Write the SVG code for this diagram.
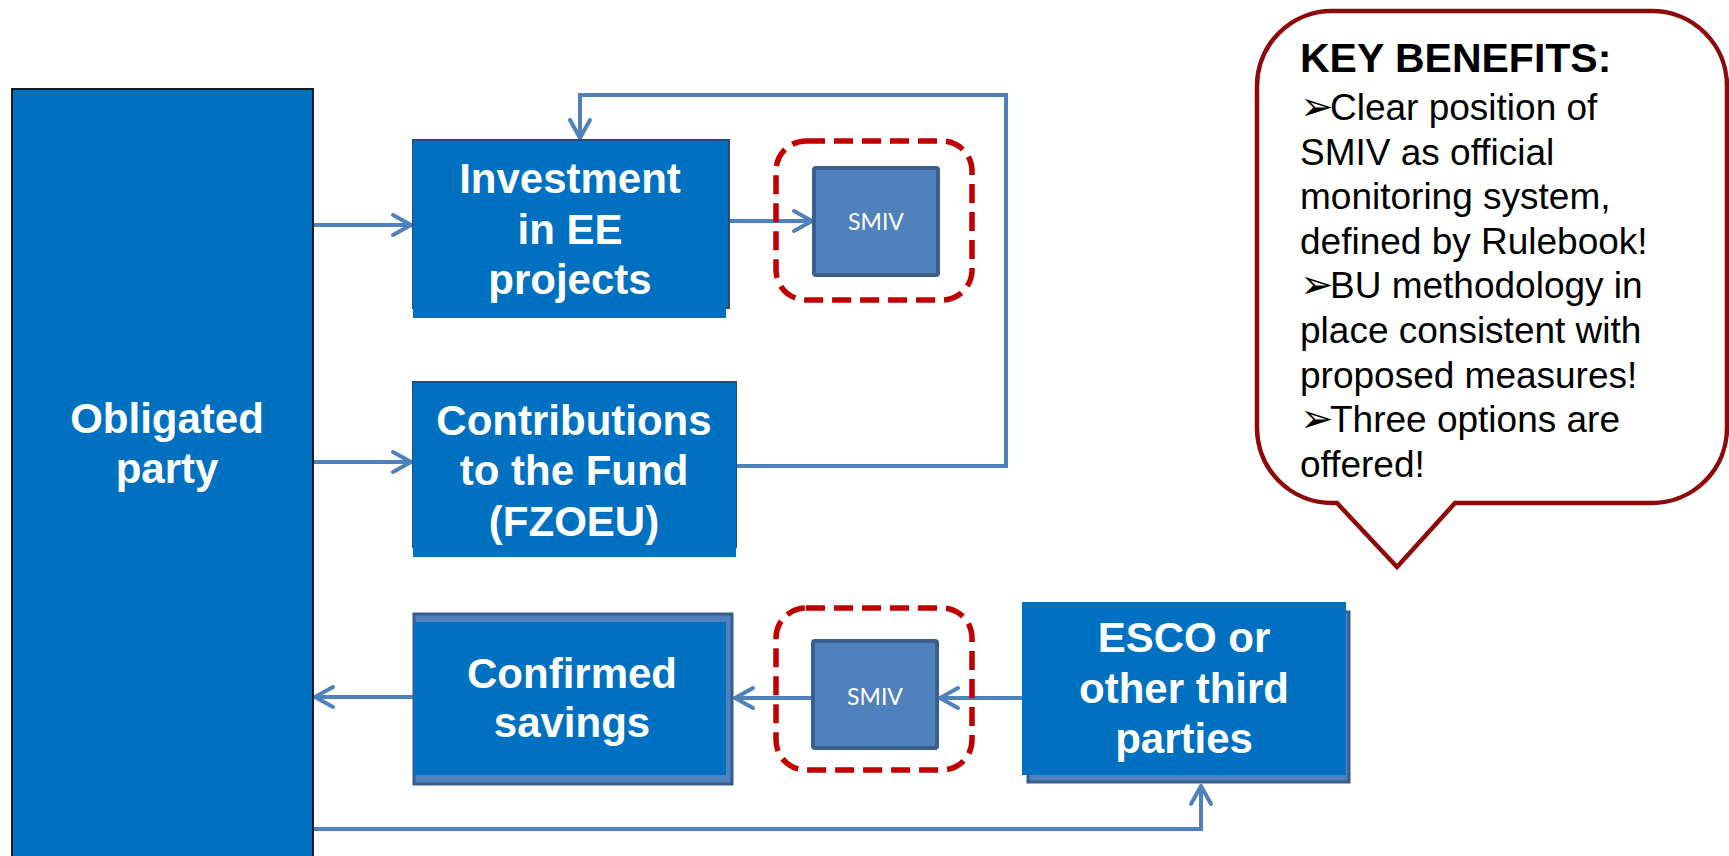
<svg xmlns="http://www.w3.org/2000/svg" width="1729" height="856" viewBox="0 0 1729 856">
<style>
.box{fill:#0070C0}
.lbl{font-family:"Liberation Sans",Arial,sans-serif;font-weight:bold;font-size:42px;fill:#FFFFFF;text-anchor:middle}
.smiv{fill:#4F81BD;stroke:#3A5F8E;stroke-width:4}
.smivt{font-family:Lato,"Open Sans",sans-serif;font-size:23px;fill:#FFFFFF;text-anchor:middle}
.dash{fill:none;stroke:#C00000;stroke-width:5.5;stroke-dasharray:19 9}
.con{fill:none;stroke:#4F81BD;stroke-width:4}
.ct{font-family:"Liberation Sans",Arial,sans-serif;font-size:37px;fill:#000000}
.bul{font-family:"DejaVu Sans",sans-serif;font-size:40px}
</style>
<defs>
<marker id="arr" viewBox="-22 -13 26 26" refX="0" refY="0" markerWidth="26" markerHeight="26" markerUnits="userSpaceOnUse" orient="auto">
<path d="M-18,-10 L0,0 L-18,10" fill="none" stroke="#4F81BD" stroke-width="4" stroke-linecap="round" stroke-linejoin="round"/>
</marker>
</defs>
<rect width="1729" height="856" fill="#FFFFFF"/>

<g id="connectors">
<path class="con" d="M313,225 H411" marker-end="url(#arr)"/>
<path class="con" d="M313,462 H411" marker-end="url(#arr)"/>
<path class="con" d="M725,221 H812" marker-end="url(#arr)"/>
<path class="con" d="M736,466 H1006 V95 H580 V138" marker-end="url(#arr)"/>
<path class="con" d="M1022,698 H940" marker-end="url(#arr)"/>
<path class="con" d="M812,698 H735" marker-end="url(#arr)"/>
<path class="con" d="M413,697 H315" marker-end="url(#arr)"/>
<path class="con" d="M313,829 H1201 V786" marker-end="url(#arr)"/>
</g>

<g id="obligated">
<rect x="12" y="89" width="301" height="780" class="box" stroke="#1A1A1A" stroke-width="2"/>
<text class="lbl" x="167" y="433">Obligated</text>
<text class="lbl" x="167" y="483">party</text>
</g>

<g id="investment">
<rect x="413" y="140" width="316" height="168" class="box" stroke="#2F4A6E" stroke-width="2"/>
<rect x="413" y="143" width="313" height="175" class="box"/>
<text class="lbl" x="570" y="193">Investment</text>
<text class="lbl" x="570" y="244">in EE</text>
<text class="lbl" x="570" y="294">projects</text>
</g>

<g id="smiv1">
<rect x="776" y="141" width="196" height="159" rx="30" class="dash"/>
<rect x="814" y="168" width="124" height="107" rx="2" class="smiv"/>
<text class="smivt" x="876" y="230">SMIV</text>
</g>

<g id="contributions">
<rect x="413" y="382" width="323" height="165" class="box" stroke="#2F4A6E" stroke-width="2"/>
<rect x="413" y="385" width="323" height="172" class="box"/>
<text class="lbl" x="574" y="435">Contributions</text>
<text class="lbl" x="574" y="485">to the Fund</text>
<text class="lbl" x="574" y="536">(FZOEU)</text>
</g>

<g id="confirmed">
<rect x="414" y="614" width="318" height="170" fill="#4F81BD" stroke="#385D8A" stroke-width="3"/>
<rect x="414" y="622" width="312" height="153" class="box"/>
<text class="lbl" x="572" y="688">Confirmed</text>
<text class="lbl" x="572" y="737">savings</text>
</g>

<g id="smiv2">
<rect x="776" y="608" width="196" height="162" rx="30" class="dash"/>
<rect x="813" y="641" width="124" height="107" rx="2" class="smiv"/>
<text class="smivt" x="875" y="705">SMIV</text>
</g>

<g id="esco">
<rect x="1028" y="612" width="321" height="170" fill="#4F81BD" stroke="#385D8A" stroke-width="3"/>
<rect x="1022" y="602" width="324" height="173" class="box"/>
<text class="lbl" x="1184" y="652">ESCO or</text>
<text class="lbl" x="1184" y="703">other third</text>
<text class="lbl" x="1184" y="753">parties</text>
</g>

<g id="callout">
<path d="M1332,11 H1652 A75,75 0 0 1 1727,86 V428 A75,75 0 0 1 1652,503 H1455 L1397,567 L1337,503 H1332 A75,75 0 0 1 1257,428 V86 A75,75 0 0 1 1332,11 Z" fill="#FFFFFF" stroke="#8E0A0A" stroke-width="4.5" stroke-linejoin="miter"/>
<text x="1300" y="72" font-family="'Liberation Sans',Arial,sans-serif" font-weight="bold" font-size="41" fill="#000000">KEY BENEFITS:</text>
<text class="ct" x="1300" y="120"><tspan class="bul">➢</tspan><tspan x="1330">Clear position of</tspan></text>
<text class="ct" x="1300" y="165">SMIV as official</text>
<text class="ct" x="1300" y="209">monitoring system,</text>
<text class="ct" x="1300" y="254">defined by Rulebook!</text>
<text class="ct" x="1300" y="298"><tspan class="bul">➢</tspan><tspan x="1330">BU methodology in</tspan></text>
<text class="ct" x="1300" y="343">place consistent with</text>
<text class="ct" x="1300" y="388">proposed measures!</text>
<text class="ct" x="1300" y="432"><tspan class="bul">➢</tspan><tspan x="1330">Three options are</tspan></text>
<text class="ct" x="1300" y="477">offered!</text>
</g>
</svg>
